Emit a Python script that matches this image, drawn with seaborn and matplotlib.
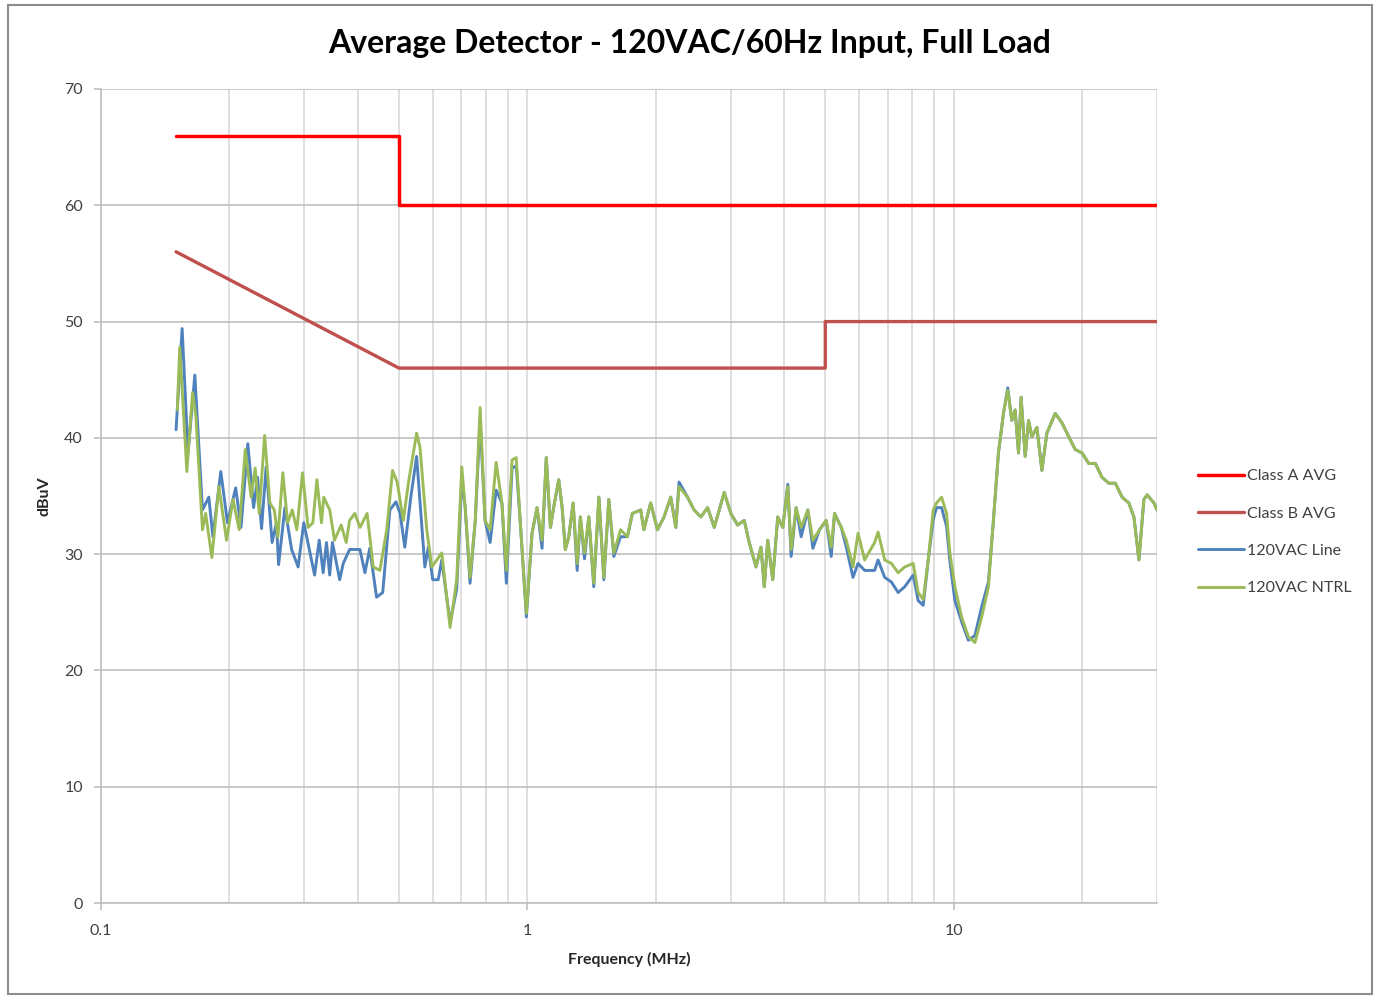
import matplotlib
matplotlib.use("Agg")
import matplotlib.pyplot as plt
from matplotlib.patches import Rectangle
from matplotlib.ticker import FixedLocator, NullFormatter, FixedFormatter
import numpy as np
import pandas as pd
import seaborn as sns

# ---- limit lines (MHz, dBuV) ----
class_a_freq = [0.15, 0.5, 0.5, 30.0]
class_a_level = [66.0, 66.0, 60.0, 60.0]

class_b_freq = [0.15, 0.5, 5.0, 5.0, 30.0]
class_b_level = [56.0, 46.0, 46.0, 50.0, 50.0]

# ---- measured spectrum, line conductor ----
line_freq = [
    0.150, 0.155, 0.160, 0.166, 0.173, 0.179, 0.183, 0.191, 0.198, 0.207,
    0.213, 0.221, 0.228, 0.233, 0.238, 0.244, 0.252, 0.258, 0.261, 0.270,
    0.280, 0.290, 0.299, 0.317, 0.325, 0.332, 0.338, 0.344, 0.349, 0.363,
    0.370, 0.383, 0.405, 0.416, 0.427, 0.443, 0.458, 0.476, 0.492, 0.503,
    0.516, 0.533, 0.550, 0.575, 0.586, 0.600, 0.618, 0.630, 0.659, 0.683,
    0.702, 0.715, 0.734, 0.755, 0.775, 0.796, 0.818, 0.845, 0.872, 0.893,
    0.921, 0.942, 0.963, 0.995, 1.026, 1.054, 1.083, 1.108, 1.133, 1.153,
    1.185, 1.207, 1.228, 1.251, 1.281, 1.309, 1.332, 1.362, 1.394, 1.432,
    1.472, 1.512, 1.553, 1.596, 1.655, 1.717, 1.764, 1.845, 1.877, 1.947,
    2.020, 2.093, 2.170, 2.230, 2.270, 2.376, 2.462, 2.553, 2.648, 2.745,
    2.897, 3.003, 3.114, 3.227, 3.316, 3.439, 3.533, 3.597, 3.664, 3.765,
    3.868, 3.974, 4.084, 4.158, 4.272, 4.389, 4.551, 4.676, 4.846, 5.025,
    5.163, 5.257, 5.452, 5.601, 5.808, 5.968, 6.185, 6.528, 6.650, 6.893,
    7.147, 7.411, 7.681, 8.038, 8.259, 8.486, 8.720, 8.959, 9.120, 9.371,
    9.627, 9.802, 10.07, 10.44, 10.83, 11.22, 11.64, 12.07, 12.40, 12.74,
    13.09, 13.40, 13.69, 13.94, 14.20, 14.40, 14.72, 14.99, 15.26, 15.68,
    16.11, 16.55, 17.31, 17.95, 18.62, 19.29, 20.01, 20.75, 21.50, 22.30,
    23.12, 23.96, 24.85, 25.77, 26.48, 27.21, 27.95, 28.45, 29.51, 30.00,
]
line_level = [
    40.7, 49.4, 38.7, 45.4, 33.8, 34.9, 31.5, 37.1, 32.7, 35.7,
    32.3, 39.5, 34.0, 36.6, 32.2, 37.5, 31.0, 32.7, 29.1, 34.0,
    30.4, 28.9, 32.7, 28.2, 31.2, 28.4, 31.0, 28.2, 31.0, 27.8,
    29.2, 30.4, 30.4, 28.4, 30.5, 26.3, 26.7, 33.8, 34.5, 33.5,
    30.6, 34.9, 38.4, 28.9, 30.6, 27.8, 27.8, 29.5, 24.1, 27.0,
    36.5, 34.0, 27.5, 32.9, 41.5, 32.9, 31.0, 35.5, 34.4, 27.5,
    37.4, 37.6, 32.7, 24.6, 31.8, 34.0, 30.5, 38.3, 32.3, 34.0,
    36.4, 34.0, 30.4, 31.5, 34.4, 28.6, 33.2, 29.6, 33.2, 27.2,
    34.9, 27.8, 34.7, 29.8, 31.5, 31.5, 33.5, 33.8, 32.1, 34.4,
    32.1, 33.2, 34.9, 32.3, 36.2, 34.9, 33.8, 33.2, 34.0, 32.3,
    35.3, 33.5, 32.5, 32.9, 31.0, 28.9, 30.6, 27.2, 31.2, 27.8,
    33.2, 32.3, 36.0, 29.8, 34.0, 31.5, 33.8, 30.5, 32.1, 32.9,
    29.8, 33.5, 32.3, 30.6, 28.0, 29.2, 28.6, 28.6, 29.5, 28.0,
    27.6, 26.7, 27.2, 28.2, 26.0, 25.6, 29.5, 33.0, 34.0, 34.0,
    32.4, 29.4, 26.0, 24.2, 22.6, 23.0, 25.5, 27.6, 32.9, 38.7,
    42.1, 44.3, 41.5, 42.4, 38.7, 43.5, 38.4, 41.5, 40.1, 40.9,
    37.2, 40.4, 42.1, 41.3, 40.1, 39.0, 38.7, 37.8, 37.8, 36.6,
    36.1, 36.1, 34.9, 34.4, 33.2, 29.5, 34.7, 35.1, 34.4, 33.8,
]

# ---- measured spectrum, neutral conductor ----
ntrl_freq = [
    0.151, 0.153, 0.159, 0.164, 0.167, 0.173, 0.176, 0.182, 0.189, 0.197,
    0.204, 0.211, 0.218, 0.225, 0.230, 0.235, 0.242, 0.249, 0.255, 0.260,
    0.267, 0.274, 0.281, 0.288, 0.297, 0.306, 0.314, 0.321, 0.329, 0.333,
    0.344, 0.353, 0.366, 0.376, 0.383, 0.394, 0.405, 0.421, 0.435, 0.451,
    0.468, 0.483, 0.495, 0.512, 0.526, 0.550, 0.560, 0.581, 0.597, 0.630,
    0.659, 0.683,
    0.702, 0.715, 0.734, 0.755, 0.775, 0.796, 0.818, 0.845, 0.872, 0.893,
    0.921, 0.942, 0.963, 0.995, 1.026, 1.054, 1.083, 1.108, 1.133, 1.153,
    1.185, 1.207, 1.228, 1.251, 1.281, 1.309, 1.332, 1.362, 1.394, 1.432,
    1.472, 1.512, 1.553, 1.596, 1.655, 1.717, 1.764, 1.845, 1.877, 1.947,
    2.020, 2.093, 2.170, 2.230, 2.270, 2.376, 2.462, 2.553, 2.648, 2.745,
    2.897, 3.003, 3.114, 3.227, 3.316, 3.439, 3.533, 3.597, 3.664, 3.765,
    3.868, 3.974, 4.084, 4.158, 4.272, 4.389, 4.551, 4.676, 4.846, 5.025,
    5.163, 5.257, 5.452, 5.601, 5.808, 5.968, 6.185, 6.528, 6.650, 6.893,
    7.147, 7.411, 7.681, 8.038, 8.259, 8.486, 8.720, 8.959, 9.120, 9.371,
    9.627, 9.802, 10.07, 10.44, 10.83, 11.22, 11.64, 12.07, 12.40, 12.74,
    13.09, 13.40, 13.69, 13.94, 14.20, 14.40, 14.72, 14.99, 15.26, 15.68,
    16.11, 16.55, 17.31, 17.95, 18.62, 19.29, 20.01, 20.75, 21.50, 22.30,
    23.12, 23.96, 24.85, 25.77, 26.48, 27.21, 27.95, 28.45, 29.51, 30.00,
]
ntrl_level = [
    42.4, 47.8, 37.1, 43.9, 41.8, 32.1, 33.5, 29.7, 35.8, 31.2,
    34.7, 32.1, 39.0, 34.9, 37.4, 33.5, 40.2, 34.4, 33.8, 31.5,
    37.0, 32.7, 33.8, 32.1, 37.0, 32.3, 32.7, 36.4, 32.7, 34.9,
    33.8, 31.2, 32.5, 31.0, 32.9, 33.5, 32.3, 33.5, 28.9, 28.6,
    32.1, 37.2, 36.2, 32.9, 36.1, 40.4, 39.2, 32.1, 28.9, 30.1,
    23.7, 27.8,
    37.5, 34.0, 28.0, 32.9, 42.6, 32.9, 32.1, 37.9, 34.4, 28.6,
    38.1, 38.3, 32.7, 24.9, 31.8, 34.0, 31.2, 38.3, 32.3, 34.0,
    36.4, 34.0, 30.4, 31.5, 34.4, 29.2, 33.2, 30.1, 33.2, 27.5,
    34.9, 28.0, 34.7, 30.1, 32.1, 31.5, 33.5, 33.8, 32.1, 34.4,
    32.1, 33.2, 34.9, 32.3, 35.8, 34.9, 33.8, 33.2, 34.0, 32.3,
    35.3, 33.5, 32.5, 32.9, 31.0, 28.9, 30.6, 27.2, 31.2, 27.8,
    33.2, 32.3, 35.8, 30.4, 34.0, 32.3, 33.8, 31.2, 32.1, 32.9,
    30.6, 33.5, 32.3, 31.2, 28.9, 31.8, 29.5, 31.0, 31.9, 29.5,
    29.2, 28.4, 28.9, 29.2, 26.7, 26.1, 29.5, 33.8, 34.4, 34.9,
    33.5, 30.1, 27.2, 24.6, 22.9, 22.4, 24.6, 27.2, 32.9, 38.7,
    42.1, 44.1, 41.5, 42.4, 38.7, 43.5, 38.4, 41.5, 40.1, 40.9,
    37.2, 40.4, 42.1, 41.3, 40.1, 39.0, 38.7, 37.8, 37.8, 36.6,
    36.1, 36.1, 34.9, 34.4, 33.2, 29.5, 34.7, 35.1, 34.4, 33.8,
]

series_names = ["Class A AVG", "Class B AVG", "120VAC Line", "120VAC NTRL"]
series_colors = ["#FF0000", "#C0504D", "#4F81BD", "#9BBB59"]
series_widths = [2.5, 2.4, 2.1, 2.1]

title_text = "Average Detector - 120VAC/60Hz Input, Full Load"
x_label = "Frequency (MHz)"
y_label = "dBuV"
x_tick_values = [0.1, 1, 10]
x_tick_labels = ["0.1", "1", "10"]
y_tick_values = [0, 10, 20, 30, 40, 50, 60, 70]

frames = []
for name, fr, lv in zip(series_names,
                        [class_a_freq, class_b_freq, line_freq, ntrl_freq],
                        [class_a_level, class_b_level, line_level, ntrl_level]):
    frames.append(pd.DataFrame({"freq": fr, "level": lv, "series": name}))
df = pd.concat(frames, ignore_index=True)

sns.set_style("white")
plt.rcParams["font.family"] = ["Lato", "DejaVu Sans"]

fig = plt.figure(figsize=(13.76, 9.96), dpi=100)
ax = fig.add_axes([101 / 1376, 93 / 996, (1157 - 101) / 1376, (903 - 89) / 996])

for name, color, lw in zip(series_names, series_colors, series_widths):
    sns.lineplot(data=df[df["series"] == name], x="freq", y="level",
                 estimator=None, sort=False, color=color, linewidth=lw,
                 label=name, ax=ax)

ax.set_xscale("log")
ax.set_xlim(0.1, 30)
ax.set_ylim(0, 70)

# grid: horizontal at every 10 dBuV, vertical at each decade step
ax.xaxis.set_major_locator(FixedLocator(x_tick_values))
ax.xaxis.set_major_formatter(FixedFormatter(x_tick_labels))
minor_pos = [m * d for d in (0.1, 1, 10) for m in range(2, 10) if m * d <= 30]
ax.xaxis.set_minor_locator(FixedLocator(minor_pos))
ax.xaxis.set_minor_formatter(NullFormatter())
ax.set_yticks(y_tick_values)
ax.grid(True, which="major", axis="y", color="#BFBFBF", linewidth=1.2)
ax.grid(True, which="both", axis="x", color="#D9D9D9", linewidth=1.2)
ax.set_axisbelow(True)

for side in ("top", "right"):
    ax.spines[side].set_visible(False)
for side in ("left", "bottom"):
    ax.spines[side].set_color("#BFBFBF")
    ax.spines[side].set_linewidth(1.2)

ax.tick_params(axis="both", which="major", direction="out", length=5,
               width=1.2, color="#BFBFBF", labelsize=11.5, labelcolor="#404040")
ax.tick_params(axis="x", which="major", pad=10)
ax.tick_params(axis="y", which="major", pad=8, left=True)
ax.tick_params(axis="x", which="minor", length=0)
ax.tick_params(axis="x", which="major", bottom=True)

ax.set_xlabel(x_label, fontsize=11.5, fontweight="bold", labelpad=10)
ax.set_ylabel(y_label, fontsize=11.5, fontweight="bold", labelpad=9)

fig.text(690 / 1376, 1 - 44 / 996, title_text, ha="center", va="center",
         fontsize=23, fontweight="bold", color="#000000")

handles, labels = ax.get_legend_handles_labels()
ax.legend(handles, labels, loc="upper left",
          bbox_to_anchor=(1198 / 1376, 1 - 469 / 996),
          bbox_transform=fig.transFigure, frameon=False, fontsize=11.5,
          handlelength=2.9, handletextpad=0.15, labelspacing=1.45,
          borderpad=0, borderaxespad=0)
for t in ax.get_legend().get_texts():
    t.set_color("#404040")

fig.patches.append(Rectangle((8 / 1376, 2 / 996), 1364 / 1376, 989 / 996,
                             transform=fig.transFigure, fill=False,
                             edgecolor="#8C8C8C", linewidth=1.5))

fig.savefig("out.png", dpi=100, facecolor="white")
